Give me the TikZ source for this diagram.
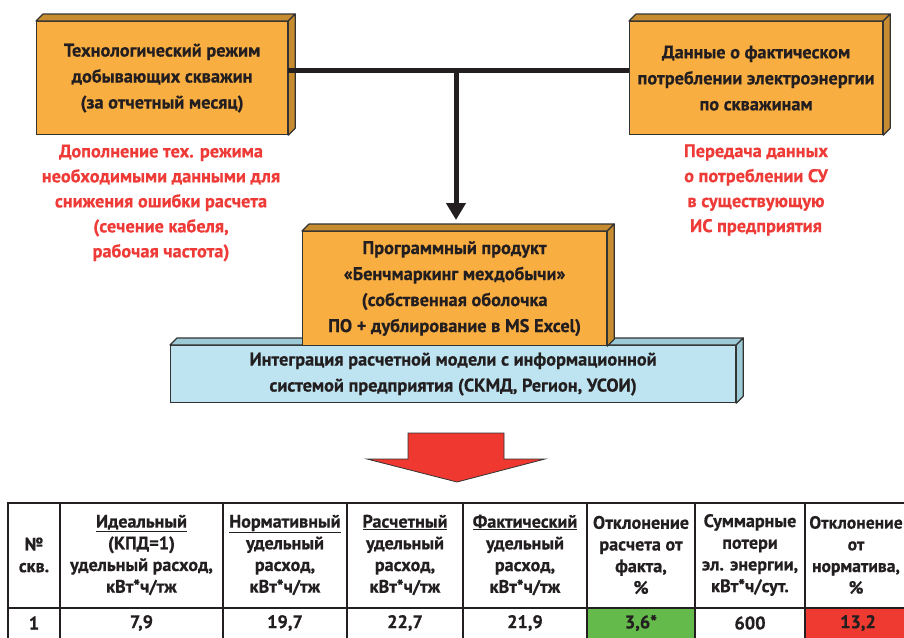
\documentclass[tikz,border=0pt]{standalone}
\usepackage{fontspec}
\setmainfont{PT Sans}[BoldFeatures={FakeBold=0.6}]
\usetikzlibrary{arrows.meta,calc}
\definecolor{orF}{HTML}{F9AE42}
\definecolor{orS}{HTML}{C88C30}
\definecolor{blF}{HTML}{BDE4F0}
\definecolor{blS}{HTML}{9CCAD6}
\definecolor{edge}{HTML}{333333}
\definecolor{txt}{HTML}{231F20}
\definecolor{redT}{HTML}{EE3B37}
\definecolor{redA}{HTML}{EE3830}
\definecolor{grC}{HTML}{64BA4A}
\definecolor{rdC}{HTML}{EE3A30}
\newcommand\depthfaces[3]{%
  \filldraw[fill=#2,draw=edge,line width=1.2pt,line join=round]
    (#1.north west) -- ++(7,-7) -- ($(#1.north east)+(7,-7)$) -- (#1.north east) -- cycle;
  \filldraw[fill=#3,draw=edge,line width=1.2pt,line join=round]
    (#1.north east) -- ++(7,-7) -- ($(#1.south east)+(7,-7)$) -- (#1.south east) -- cycle;}
\begin{document}
\begin{tikzpicture}[x=1pt,y=-1pt,
  every node/.style={text=txt},
  box/.style={draw=edge,line width=1.2pt,fill=orF,align=center,inner sep=0pt,anchor=north west,
    font=\fontsize{18.3}{26}\selectfont\bfseries},
  bluebox/.style={box,fill=blF,font=\fontsize{18.3}{26}\selectfont\bfseries},
  note/.style={text=redT,align=center,font=\fontsize{18.3}{25}\selectfont\bfseries},
  head/.style={align=center,inner sep=0pt,font=\fontsize{18.1}{21.7}\selectfont\bfseries},
  val/.style={inner sep=0pt,font=\fontsize{18.3}{20}\selectfont\bfseries},
  tline/.style={draw=txt,line width=1.5pt},
  conn/.style={draw=txt,line width=5pt}]
\useasboundingbox (0,0) rectangle (904,637);
\clip (0,0) rectangle (904,637);

% boxes
\node[box,minimum width=251pt,minimum height=113pt] (b1) at (36,21)
  {Технологический режим\\добывающих скважин\\(за отчетный месяц)};
\depthfaces{b1}{orS}{orS}
\node[box,minimum width=253pt,minimum height=113pt] (b2) at (629,21)
  {Данные о фактическом\\потреблении электроэнергии\\по скважинам};
\depthfaces{b2}{orS}{orS}
\coordinate (j) at (456,70);
\draw[conn] (b1.east |- j) -- (b2.west |- j);
\draw[conn,-{Triangle[width=19pt,length=17pt]}] (j) -- ([yshift=11pt]j |- 0,231);

\node[bluebox,minimum width=565pt,minimum height=57pt] (b4) at (170,345)
  {Интеграция расчетной модели с информационной\\системой предприятия (СКМД, Регион, УСОИ)};
\depthfaces{b4}{blS}{blS}
\node[box,minimum width=304pt,minimum height=114pt] (b3) at (302,231)
  {Программный продукт\\«Бенчмаркинг мехдобычи»\\(собственная оболочка\\ПО + дублирование в MS Excel)};
\depthfaces{b3}{orS}{orS}

% red notes
\node[note] (n1) at (161,203) {Дополнение тех. режима\\необходимыми данными для\\снижения ошибки расчета\\(сечение кабеля,\\рабочая частота)};
\node[note] (n2) at (756,190) {Передача данных\\о потреблении СУ\\в существующую\\ИС предприятия};

% big red arrow
\filldraw[fill=redA,draw=edge,line width=0.8pt,line join=miter]
  (408,433) -- (504,433) -- (504,459) -- (545,459) -- (457,482) -- (367,459) -- (408,459) -- cycle;

% table
\fill[grC] (587,608) rectangle (695,660);
\fill[rdC] (805,608) rectangle (915,660);
\draw[tline] (8,660) -- (8,503) -- (915,503);
\draw[tline] (8,608) -- (915,608);
\foreach \x in {60,223,347,463,587,695,805}
  \draw[tline] (\x,503) -- (\x,660);

\node[head] (h1) at (34,555) {№\\скв.};
\node[head] (h2) at (141.5,555) {\underline{Идеальный}\\(КПД=1)\\удельный расход,\\кВт*ч/тж};
\node[head] (h3) at (285,555) {\underline{Нормативный}\\удельный\\расход,\\кВт*ч/тж};
\node[head] (h4) at (405,555) {\underline{Расчетный}\\удельный\\расход,\\кВт*ч/тж};
\node[head] (h5) at (525,555) {\underline{Фактический}\\удельный\\расход,\\кВт*ч/тж};
\node[head] (h6) at (641,555) {Отклонение\\расчета от\\факта,\\\%};
\node[head] (h7) at (750,555) {Суммарные\\потери\\эл. энергии,\\кВт*ч/сут.};
\node[head,font=\fontsize{17.6}{21.7}\selectfont\bfseries] (h8) at (856,555) {Отклонение\\от\\норматива,\\\%};

\node[val] (r1) at (34,623) {1};
\node[val] (r2) at (141.5,623) {7,9};
\node[val] (r3) at (285,623) {19,7};
\node[val] (r4) at (405,623) {22,7};
\node[val] (r5) at (525,623) {21,9};
\node[val] (r6) at (641,623) {3,6*};
\node[val] (r7) at (750,623) {600};
\node[val] (r8) at (858,623) {13,2};
\end{tikzpicture}
\end{document}
